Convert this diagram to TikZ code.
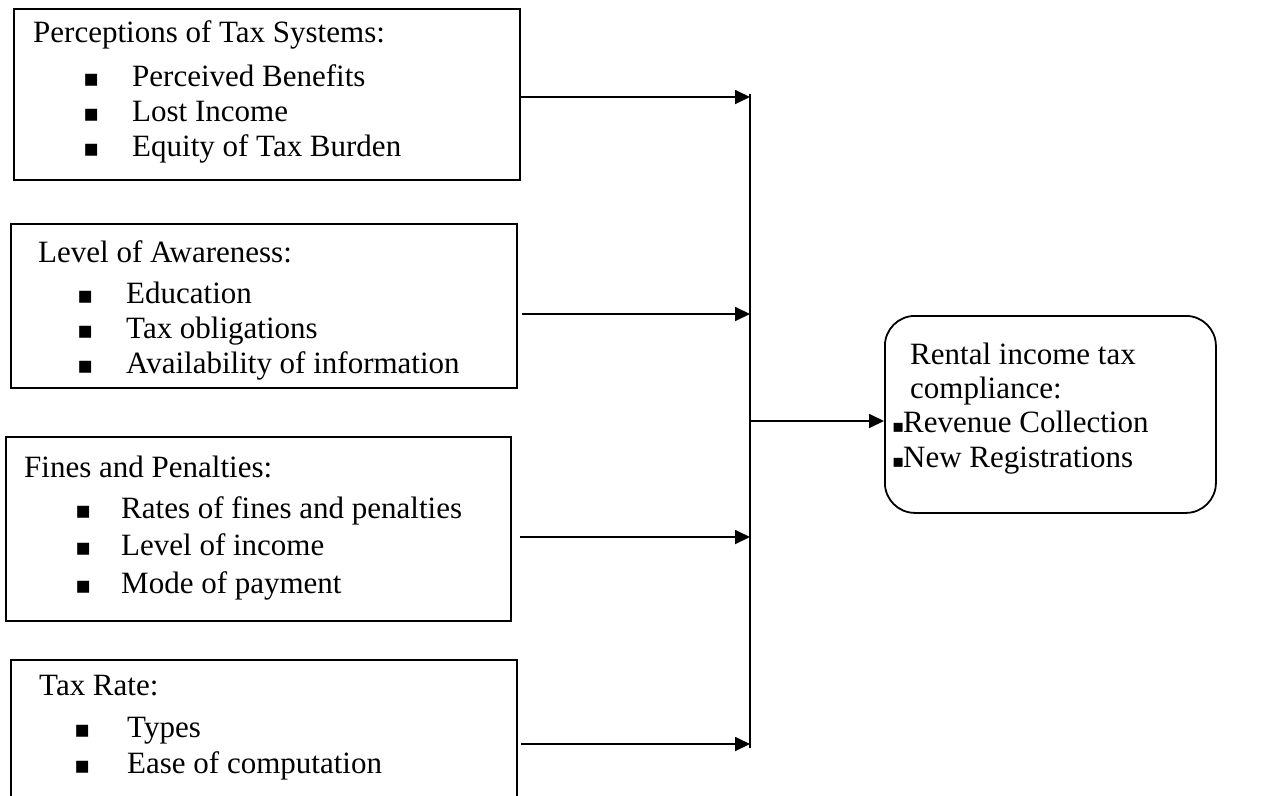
\documentclass[tikz,border=0pt]{standalone}
\usepackage{fontspec}
\setmainfont{Liberation Serif}
\newfontfamily\symfont{DejaVu Sans}
\usetikzlibrary{arrows.meta}
\begin{document}
\begin{tikzpicture}[x=1pt,y=-1pt,
  box/.style={draw, line width=1.8pt, inner sep=0pt, anchor=north west},
  txt/.style={anchor=base west, inner sep=0pt, font=\fontsize{31}{36}\selectfont},
  bul/.style={anchor=base west, inner sep=0pt, font=\symfont\fontsize{24}{24}\selectfont},
  sbul/.style={anchor=base west, inner sep=0pt, font=\symfont\fontsize{18}{18}\selectfont},
  conn/.style={line width=1.8pt, -{Triangle[length=15pt,width=14pt]}},
  bus/.style={line width=1.8pt}
]
\useasboundingbox[fill=white] (0,0) rectangle (1268,795);

% input boxes
\node[box, minimum width=506pt, minimum height=171pt] (b1) at (13,8) {};
\node[box, minimum width=506pt, minimum height=164pt] (b2) at (10,223) {};
\node[box, minimum width=505pt, minimum height=184pt] (b3) at (5,436) {};
\node[box, minimum width=506pt, minimum height=180pt] (b4) at (10,659) {};

% output box
\node[box, rounded corners=30pt, minimum width=331pt, minimum height=197pt] (out) at (884,315) {};

% box 1 text
\node[txt] (t1) at (33,42) {Perceptions of Tax Systems:};
\node[bul] (t1b1) at (83,86) {▪};
\node[txt] (t1i1) at (132,86) {Perceived Benefits};
\node[bul] (t1b2) at (83,121) {▪};
\node[txt] (t1i2) at (132,121) {Lost Income};
\node[bul] (t1b3) at (83,156) {▪};
\node[txt] (t1i3) at (132,156) {Equity of Tax Burden};

% box 2 text
\node[txt] (t2) at (38,262) {Level of Awareness:};
\node[bul] (t2b1) at (77,303) {▪};
\node[txt] (t2i1) at (126,303) {Education};
\node[bul] (t2b2) at (77,338) {▪};
\node[txt] (t2i2) at (126,338) {Tax obligations};
\node[bul] (t2b3) at (77,373) {▪};
\node[txt] (t2i3) at (126,373) {Availability of information};

% box 3 text
\node[txt] (t3) at (24,477) {Fines and Penalties:};
\node[bul] (t3b1) at (75,518) {▪};
\node[txt] (t3i1) at (121,518) {Rates of fines and penalties};
\node[bul] (t3b2) at (75,555) {▪};
\node[txt] (t3i2) at (121,555) {Level of income};
\node[bul] (t3b3) at (75,593) {▪};
\node[txt] (t3i3) at (121,593) {Mode of payment};

% box 4 text
\node[txt] (t4) at (39,695) {Tax Rate:};
\node[bul] (t4b1) at (74,737) {▪};
\node[txt] (t4i1) at (127,737) {Types};
\node[bul] (t4b2) at (74,773) {▪};
\node[txt] (t4i2) at (127,773) {Ease of computation};

% output text
\node[txt] (o1) at (910,364) {Rental income tax};
\node[txt] (o2) at (910,398) {compliance:};
\node[sbul] (ob1) at (892,432) {▪};
\node[txt] (o3) at (903,432) {Revenue Collection};
\node[sbul] (ob2) at (892,467) {▪};
\node[txt] (o4) at (903,467) {New Registrations};

% bus
\coordinate (vtop) at (750,94);
\coordinate (vbot) at (750,748);
\coordinate (v1) at (750,97);
\coordinate (v2) at (750,314);
\coordinate (v3) at (750,537);
\coordinate (v4) at (750,744);
\coordinate (vo) at (750,421);
\draw[bus] (vtop) -- (vbot);

\draw[conn] (b1.east |- v1) -- (v1);
\draw[conn] ([xshift=4pt]b2.east |- v2) -- (v2);
\draw[conn] ([xshift=8pt]b3.east |- v3) -- (v3);
\draw[conn] ([xshift=3pt]b4.east |- v4) -- (v4);
\draw[conn] (vo) -- (out.west |- vo);
\end{tikzpicture}
\end{document}
